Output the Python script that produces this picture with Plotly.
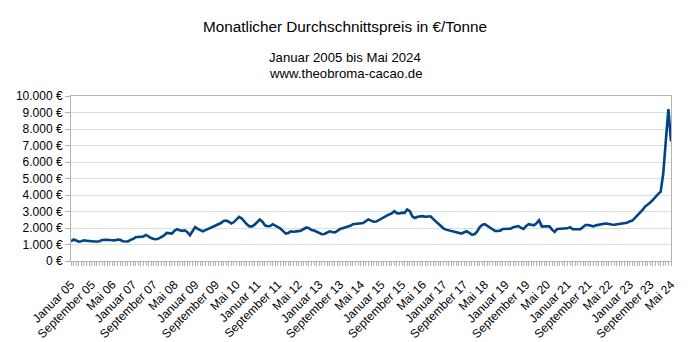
import plotly.graph_objects as go

months_de = ["Januar", "Februar", "März", "April", "Mai", "Juni", "Juli",
             "August", "September", "Oktober", "November", "Dezember"]

prices = [
    # 2005
    1200, 1300, 1240, 1170, 1200, 1250, 1230, 1200, 1190, 1180, 1180, 1200,
    # 2006
    1270, 1290, 1290, 1270, 1240, 1250, 1300, 1280, 1200, 1170, 1180, 1280,
    # 2007
    1330, 1440, 1460, 1470, 1490, 1580, 1470, 1390, 1330, 1320, 1370, 1460,
    # 2008
    1550, 1700, 1690, 1660, 1830, 1930, 1860, 1830, 1860, 1750, 1560, 1800,
    # 2009
    2060, 1950, 1850, 1800, 1870, 1940, 1990, 2100, 2160, 2240, 2300, 2430,
    # 2010
    2450, 2380, 2270, 2360, 2500, 2670, 2580, 2380, 2220, 2100, 2100, 2200,
    # 2011
    2350, 2510, 2380, 2160, 2110, 2120, 2230, 2160, 2050, 1960, 1800, 1660,
    # 2012
    1700, 1800, 1770, 1770, 1810, 1850, 1960, 2030, 1990, 1880, 1850, 1760,
    # 2013
    1680, 1620, 1640, 1720, 1800, 1760, 1730, 1820, 1940, 1990, 2040, 2090,
    # 2014
    2130, 2230, 2240, 2260, 2270, 2300, 2420, 2520, 2450, 2380, 2390, 2480,
    # 2015
    2580, 2670, 2730, 2820, 2880, 3020, 2900, 2880, 2930, 2920, 3120, 3020,
    # 2016
    2700, 2610, 2680, 2710, 2720, 2680, 2700, 2710, 2550, 2400, 2250, 2110,
    # 2017
    1980, 1900, 1860, 1820, 1790, 1760, 1680, 1660, 1740, 1800, 1700, 1600,
    # 2018
    1620, 1780, 2040, 2190, 2230, 2120, 2010, 1920, 1820, 1820, 1840, 1940,
    # 2019
    1960, 1940, 1960, 2050, 2070, 2120, 2010, 1940, 2120, 2230, 2200, 2160,
    # 2020
    2280, 2470, 2100, 2100, 2080, 2100, 1900, 1760, 1940, 1960, 1960, 1960,
    # 2021
    1980, 2050, 1930, 1920, 1910, 1920, 2060, 2180, 2180, 2150, 2100, 2160,
    # 2022
    2200, 2240, 2260, 2270, 2230, 2210, 2200, 2230, 2260, 2270, 2300, 2320,
    # 2023
    2400, 2450, 2600, 2750, 2900, 3100, 3300, 3400, 3550, 3700, 3900, 4050,
    # 2024
    4200, 5300, 7300, 9200, 7250,
]

month_labels = [f"{months_de[i % 12]} {(5 + i // 12):02d}" for i in range(len(prices))]
x_idx = list(range(len(prices)))

tick_idx = list(range(0, len(prices), 8))
tick_text = [month_labels[i] for i in tick_idx]

y_ticks = [0, 1000, 2000, 3000, 4000, 5000, 6000, 7000, 8000, 9000, 10000]
y_text = ["0 €", "1.000 €", "2.000 €", "3.000 €", "4.000 €", "5.000 €",
          "6.000 €", "7.000 €", "8.000 €", "9.000 €", "10.000 €"]

fig = go.Figure(go.Scatter(
    x=x_idx, y=prices, mode="lines",
    line=dict(color="#004586", width=2.6),
    text=month_labels, hoverinfo="text+y",
))

font_family = "Liberation Sans, Arial, sans-serif"
cx = (345 - 71) / 600.0  # horizontal centre of the whole figure, in plot-paper units

fig.update_layout(
    width=690, height=342,
    margin=dict(l=71, r=19, t=96, b=81),
    paper_bgcolor="white", plot_bgcolor="white",
    font=dict(family=font_family, color="#000000", size=12),
    showlegend=False,
    annotations=[
        dict(text="Monatlicher Durchschnittspreis in €/Tonne", xref="paper", yref="paper",
             x=cx, y=1, yshift=70, xanchor="center", yanchor="middle",
             showarrow=False, font=dict(size=15.3, family=font_family)),
        dict(text="Januar 2005 bis Mai 2024", xref="paper", yref="paper",
             x=cx, y=1, yshift=38.5, xanchor="center", yanchor="middle",
             showarrow=False, font=dict(size=13.2, family=font_family)),
        dict(text="www.theobroma-cacao.de", xref="paper", yref="paper",
             x=cx, y=1, yshift=22.5, xanchor="center", yanchor="middle",
             showarrow=False, font=dict(size=13.2, family=font_family)),
    ],
)

fig.update_xaxes(
    range=[0, len(prices) - 1], automargin=False,
    tickmode="array", tickvals=tick_idx, ticktext=tick_text,
    tickangle=-45, tickfont=dict(size=12), ticklabelstandoff=7,
    ticks="outside", ticklen=4, tickcolor="#b3b3b3",
    minor=dict(tickmode="linear", tick0=0, dtick=1, ticks="outside",
               ticklen=4, tickcolor="#b3b3b3", showgrid=False),
    showgrid=False, zeroline=False,
    showline=True, linecolor="#b3b3b3", linewidth=1, mirror=True,
)

fig.update_yaxes(
    range=[0, 10000], automargin=False,
    tickmode="array", tickvals=y_ticks, ticktext=y_text,
    tickfont=dict(size=12),
    ticks="outside", ticklen=5, tickcolor="#b3b3b3",
    showgrid=True, gridcolor="#dddddd", gridwidth=1,
    zeroline=False,
    showline=True, linecolor="#b3b3b3", linewidth=1, mirror=True,
)

fig.write_html("out.html")
